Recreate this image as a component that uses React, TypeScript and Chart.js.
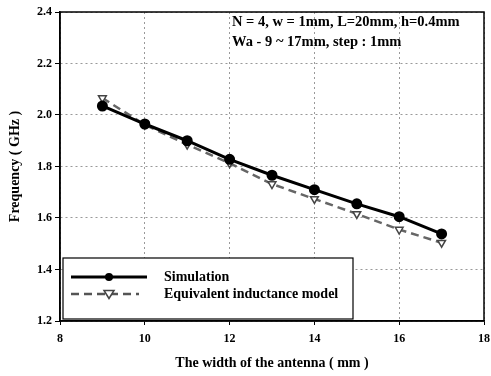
import React, { useEffect, useRef } from "react";
import { Chart, registerables } from "chart.js";
Chart.register(...registerables);

const widths = [9, 10, 11, 12, 13, 14, 15, 16, 17];
const simulation = [2.035, 1.965, 1.9, 1.828, 1.766, 1.71, 1.655, 1.605, 1.538];
const model = [2.066, 1.962, 1.885, 1.813, 1.732, 1.674, 1.616, 1.555, 1.504];
const xTicks = [8, 10, 12, 14, 16, 18];
const yTicks = [1.2, 1.4, 1.6, 1.8, 2.0, 2.2, 2.4];
const seriesNames = ["Simulation", "Equivalent inductance model"];
const noteLines = ["N = 4, w = 1mm, L=20mm, h=0.4mm", "Wa - 9 ~ 17mm, step : 1mm"];
const xTitle = "The width of the antenna ( mm )";
const yTitle = "Frequency ( GHz )";

const FONT = "'Liberation Serif', 'Times New Roman', serif";

export default function App() {
  const ref = useRef<HTMLCanvasElement>(null);
  useEffect(() => {
    const boxPlugin = {
      id: "boxPlugin",
      afterDraw(chart: any) {
        const { ctx, chartArea: a } = chart;
        ctx.save();
        ctx.strokeStyle = "#000";
        ctx.lineWidth = 1.5;
        ctx.strokeRect(a.left, a.top, a.right - a.left, a.bottom - a.top);
        // annotation
        ctx.fillStyle = "#000";
        ctx.font = `bold 14.5px ${FONT}`;
        ctx.textBaseline = "middle";
        ctx.textAlign = "left";
        ctx.fillText(noteLines[0], a.left + 172, a.top + 10);
        ctx.fillText(noteLines[1], a.left + 172, a.top + 30);
        // legend
        const lx = a.left + 3, ly = a.top + 246, lw = 290, lh = 61;
        ctx.fillStyle = "#fff";
        ctx.fillRect(lx, ly, lw, lh);
        ctx.strokeStyle = "#000";
        ctx.lineWidth = 1.2;
        ctx.strokeRect(lx, ly, lw, lh);
        const y1 = ly + 19, y2 = ly + 36;
        ctx.lineWidth = 3;
        ctx.beginPath();
        ctx.moveTo(lx + 8, y1);
        ctx.lineTo(lx + 84, y1);
        ctx.stroke();
        ctx.beginPath();
        ctx.arc(lx + 46, y1, 4, 0, Math.PI * 2);
        ctx.fillStyle = "#000";
        ctx.fill();
        ctx.strokeStyle = "#555";
        ctx.lineWidth = 2.5;
        ctx.setLineDash([8, 5]);
        ctx.beginPath();
        ctx.moveTo(lx + 8, y2);
        ctx.lineTo(lx + 76, y2);
        ctx.stroke();
        ctx.setLineDash([]);
        ctx.fillStyle = "#fff";
        ctx.strokeStyle = "#444";
        ctx.lineWidth = 1.5;
        ctx.beginPath();
        ctx.moveTo(lx + 41, y2 - 3.5);
        ctx.lineTo(lx + 51, y2 - 3.5);
        ctx.lineTo(lx + 46, y2 + 4.5);
        ctx.closePath();
        ctx.fill();
        ctx.stroke();
        ctx.fillStyle = "#000";
        ctx.font = `bold 14px ${FONT}`;
        ctx.fillText(seriesNames[0], lx + 101, y1);
        ctx.fillText(seriesNames[1], lx + 101, y2);
        ctx.restore();
      },
    };
    const chart = new Chart(ref.current!, {
      type: "line",
      data: {
        datasets: [
          {
            label: seriesNames[1],
            data: widths.map((x, i) => ({ x, y: model[i] })),
            borderColor: "#666",
            borderWidth: 2.5,
            borderDash: [8, 5],
            pointStyle: "triangle",
            rotation: 180,
            pointRadius: 4.5,
            pointBackgroundColor: "#fff",
            pointBorderColor: "#444",
            pointBorderWidth: 1.5,
            order: 2,
          },
          {
            label: seriesNames[0],
            data: widths.map((x, i) => ({ x, y: simulation[i] })),
            borderColor: "#000",
            borderWidth: 3,
            pointStyle: "circle",
            pointRadius: 4,
            pointBackgroundColor: "#000",
            pointBorderColor: "#000",
            order: 1,
          },
        ],
      },
      options: {
        animation: false,
        responsive: false,
        layout: { padding: { top: 12, right: 4, left: 3, bottom: 0 } },
        plugins: { legend: { display: false }, tooltip: { enabled: false } },
        scales: {
          x: {
            type: "linear",
            min: 8,
            max: 18,
            afterBuildTicks: (s: any) => { s.ticks = xTicks.map((v) => ({ value: v })); },
            afterFit: (s: any) => { s.height = 55; s.paddingRight = 0; s.paddingLeft = 0; },
            grid: { color: "#999", lineWidth: 1, drawTicks: true, tickLength: 4, tickColor: "#000" },
            border: { color: "#000", width: 1.5, dash: [2, 3] },
            ticks: { color: "#000", font: { family: FONT, weight: "bold", size: 12 }, padding: 7, callback: (v: any) => String(v) },
            title: { display: true, text: xTitle, color: "#000", font: { family: FONT, weight: "bold", size: 14 }, padding: { top: 10 } },
          },
          y: {
            type: "linear",
            min: 1.2,
            max: 2.4,
            afterBuildTicks: (s: any) => { s.ticks = yTicks.map((v) => ({ value: v })); },
            afterFit: (s: any) => { s.width = 57; s.paddingTop = 0; s.paddingBottom = 0; },
            grid: { color: "#999", lineWidth: 1, drawTicks: true, tickLength: 5, tickColor: "#000" },
            border: { color: "#000", width: 1.5, dash: [2, 3] },
            ticks: { color: "#000", font: { family: FONT, weight: "bold", size: 12 }, padding: 3, callback: (v: any) => Number(v).toFixed(1) },
            title: { display: true, text: yTitle, color: "#000", font: { family: FONT, weight: "bold", size: 14 }, padding: { bottom: 2 } },
          },
        },
      },
      plugins: [boxPlugin],
    } as any);
    return () => chart.destroy();
  }, []);
  return (
    <div style={{ position: "fixed", left: 0, top: 0, width: 491, height: 376, background: "#fff" }}>
      <canvas ref={ref} width={491} height={376} style={{ width: 491, height: 376 }} />
    </div>
  );
}
